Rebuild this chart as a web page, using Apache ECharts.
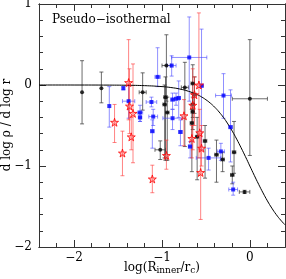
<!DOCTYPE html>
<html>
<head>
<meta charset="utf-8">
<script src="https://cdn.jsdelivr.net/npm/echarts@6/dist/echarts.min.js"></script>
<style>
html,body{margin:0;padding:0;background:#fff;}
#c{width:286px;height:279px;}
</style>
</head>
<body>
<div id="c"></div>
<script>
// ---- tick values ----
var xMajor = [-2, -1, 0];
var xMinor = [-2.4, -2.2, -2.0, -1.8, -1.6, -1.4, -1.2, -1.0, -0.8, -0.6, -0.4, -0.2, 0.0, 0.2, 0.4];
var yMajor = [-2, -1, 0, 1];
var yMinor = [-2.0, -1.8, -1.6, -1.4, -1.2, -1.0, -0.8, -0.6, -0.4, -0.2, 0.0, 0.2, 0.4, 0.6, 0.8, 1.0];

// ---- texts ----
var titleText = 'Pseudo\u2212isothermal';
var xName = '{a|log(R}{s|inner}{a|/r}{s|c}{a|)}';
var yName = 'd log \u03c1 / d log r';

// ---- model curve ----
var curveX = [-2.4, -2.0, -1.6, -1.4, -1.2, -1.0, -0.9, -0.8, -0.7, -0.6, -0.55, -0.5, -0.45, -0.4, -0.35, -0.3, -0.25, -0.2, -0.15, -0.1, -0.05, 0.0, 0.05, 0.1, 0.15, 0.2, 0.25, 0.3, 0.35, 0.4];
var curveY = [0.0, -0.0002, -0.0013, -0.0032, -0.0079, -0.0198, -0.031, -0.049, -0.077, -0.119, -0.147, -0.182, -0.224, -0.274, -0.333, -0.402, -0.481, -0.570, -0.668, -0.774, -0.885, -1.0, -1.115, -1.226, -1.332, -1.431, -1.520, -1.599, -1.667, -1.726];

// ---- black points ----
var blackX   = [-1.91, -1.69, -1.22, -0.95, -0.96, -0.97, -0.94, -0.74, -0.65, -0.63, -0.65, -0.65, -0.66, -0.60, -0.51, 0.00, -1.02, -0.38, -0.31, -0.18, -0.20, -0.06];
var blackY   = [-0.09, -0.04, -0.09, 0.24, -0.15, -0.24, -0.34, -0.03, 0.02, -0.12, -0.24, -0.33, -0.47, -0.64, -0.69, -0.17, -0.80, -0.86, -0.92, -0.83, -1.11, -1.32];
var blackYHi = [0.30, 0.16, 0.15, 0.62, 0.10, 0.00, -0.15, 0.28, 0.25, 0.10, -0.10, -0.15, -0.30, -0.40, -0.50, 0.56, -0.69, -0.68, -0.83, -0.45, -1.00, -1.30];
var blackYLo = [-0.48, -0.22, -0.31, -0.20, -0.93, -0.90, -0.93, -0.76, -0.30, -0.35, -0.40, -0.55, -1.07, -1.17, -1.15, -0.87, -0.92, -1.20, -1.07, -1.09, -1.22, -1.34];
var blackXErr= [0, 0, 0.04, 0.05, 0.02, 0.02, 0.02, 0.04, 0.02, 0.02, 0.02, 0.02, 0.02, 0.02, 0.02, 0.20, 0.06, 0.02, 0.02, 0.02, 0.02, 0.06];

// ---- blue points ----
var blueX   = [-1.60, -1.44, -1.38, -1.25, -1.25, -1.05, -1.12, -1.10, -1.11, -0.89, -0.69, -0.55, -0.30, -0.22, -0.88, -0.84, -0.81, -0.88, -0.79, -0.68, -0.47, -0.33, -0.19];
var blueY   = [-0.26, -0.04, -0.20, -0.34, -0.40, 0.10, -0.21, -0.39, -0.57, 0.24, 0.34, -0.01, -0.13, -0.52, -0.18, -0.17, -0.16, -0.41, -0.58, -0.76, -0.90, -0.82, -1.29];
var blueYHi = [-0.02, -0.02, -0.01, -0.25, -0.35, 0.46, -0.15, -0.30, -0.43, 0.36, 0.84, 0.69, 0.14, -0.06, -0.10, -0.10, 0.05, -0.30, -0.43, -0.70, -0.78, -0.72, -1.20];
var blueYLo = [-0.52, -0.06, -0.41, -0.45, -0.45, -0.02, -0.27, -0.50, -0.78, 0.11, -0.20, -0.80, -0.41, -0.95, -0.30, -0.25, -0.40, -0.55, -0.75, -0.90, -1.05, -0.93, -1.36];
var blueXErr= [0, 0, 0.07, 0.03, 0.02, 0.03, 0.06, 0.05, 0.02, 0.05, 0.20, 0.02, 0.09, 0.02, 0.02, 0.04, 0.02, 0.11, 0.02, 0.02, 0.14, 0.04, 0.05];

// ---- red stars ----
var redX   = [-1.38, -1.54, -1.37, -1.33, -1.35, -1.45, -1.11, -0.95, -0.58, -0.75, -0.65, -0.63, -0.66, -0.55, -0.56, -0.57];
var redY   = [0.03, -0.46, -0.26, -0.35, -0.64, -0.84, -1.16, -0.87, 0.00, -0.38, -0.25, -0.12, -0.66, -0.78, -1.08, -0.59];
var redYHi = [0.56, -0.24, 0.20, 0.26, -0.40, -0.57, -0.99, -0.68, 0.89, -0.18, 0.20, 0.10, -0.50, -0.50, -0.60, -0.30];
var redYLo = [-0.43, -0.71, -0.60, -0.96, -0.80, -1.12, -1.33, -1.04, -0.90, -0.75, -0.80, -0.50, -0.90, -1.00, -1.66, -0.80];
var redXErr= [0, 0, 0, 0, 0, 0, 0, 0, 0.05, 0, 0, 0, 0, 0, 0, 0];

var FONT = 'DejaVu Serif';
function minus(v){ var s = String(Math.round(v)); return s.replace('-', '\u2212'); }

function rows(X, Y, Lo, Hi, XE){
  var out = [];
  for (var i = 0; i < X.length; i++) out.push([X[i], Y[i], Lo[i], Hi[i], XE[i]]);
  return out;
}
function pts(X, Y){
  var out = [];
  for (var i = 0; i < X.length; i++) out.push([X[i], Y[i]]);
  return out;
}
function errRender(color){
  return function(params, api){
    var x = api.value(0), y = api.value(1), lo = api.value(2), hi = api.value(3), xe = api.value(4);
    var p = api.coord([x, y]);
    var pl = api.coord([x, lo]);
    var ph = api.coord([x, hi]);
    var cap = 2;
    var st = {stroke: color, lineWidth: 1, fill: null};
    var ch = [
      {type:'line', shape:{x1:p[0], y1:ph[1], x2:p[0], y2:pl[1]}, style:st},
      {type:'line', shape:{x1:p[0]-cap, y1:ph[1], x2:p[0]+cap, y2:ph[1]}, style:st},
      {type:'line', shape:{x1:p[0]-cap, y1:pl[1], x2:p[0]+cap, y2:pl[1]}, style:st}
    ];
    if (xe > 0) {
      var a = api.coord([x - xe, y]), b = api.coord([x + xe, y]);
      ch.push({type:'line', shape:{x1:a[0], y1:p[1], x2:b[0], y2:p[1]}, style:st});
      ch.push({type:'line', shape:{x1:a[0], y1:p[1]-cap, x2:a[0], y2:p[1]+cap}, style:st});
      ch.push({type:'line', shape:{x1:b[0], y1:p[1]-cap, x2:b[0], y2:p[1]+cap}, style:st});
    }
    return {type:'group', children: ch};
  };
}

var axisLineStyle = {color:'#333', width:1};
function xAx(pos, vals, len, showLabel){
  return {
    type:'value', position:pos, min:-2.4, max:0.4,
    axisLine:{show:true, onZero:false, lineStyle:axisLineStyle},
    axisTick:{show:true, inside:true, length:len, customValues:vals, lineStyle:{color:'#333'}},
    axisLabel:{show:showLabel, customValues:vals, formatter:minus, color:'#000', fontFamily:FONT, fontSize:12, margin:5},
    splitLine:{show:false}
  };
}
function yAx(pos, vals, len, showLabel){
  return {
    type:'value', position:pos, min:-2, max:1,
    axisLine:{show:true, onZero:false, lineStyle:axisLineStyle},
    axisTick:{show:true, inside:true, length:len, customValues:vals, lineStyle:{color:'#333'}},
    axisLabel:{show:showLabel, customValues:vals, formatter:minus, color:'#000', fontFamily:FONT, fontSize:12, margin:7},
    splitLine:{show:false}
  };
}

var chart = echarts.init(document.getElementById('c'), null, {renderer:'canvas'});
chart.setOption({
  animation:false,
  backgroundColor:'#fff',
  grid:{left:39, right:1, top:4, bottom:32, containLabel:false, outerBoundsMode:'none'},
  title:{text:titleText, left:52, top:14, padding:0,
    textStyle:{fontFamily:FONT, fontSize:12, fontWeight:'normal', color:'#000'}},
  graphic:[
    {type:'text', x:162, y:268, style:{text:xName, align:'center', verticalAlign:'middle',
      rich:{
        a:{fontFamily:FONT, fontSize:12, fill:'#000', color:'#000'},
        s:{fontFamily:FONT, fontSize:9, fill:'#000', color:'#000', padding:[6,0,0,0]}
      }}},
    {type:'text', x:6.5, y:125, rotation:Math.PI/2, style:{text:yName, align:'center', verticalAlign:'middle',
      fontFamily:FONT, fontSize:12, fill:'#000'}}
  ],
  xAxis:[
    xAx('bottom', xMajor, 7, true),
    xAx('bottom', xMinor, 4, false),
    xAx('top', xMajor, 7, false),
    xAx('top', xMinor, 4, false)
  ],
  yAxis:[
    yAx('left', yMajor, 7, true),
    yAx('left', yMinor, 4, false),
    yAx('right', yMajor, 7, false),
    yAx('right', yMinor, 4, false)
  ],
  series:[
    {type:'custom', renderItem:errRender('rgba(60,60,60,0.75)'), data:rows(blackX, blackY, blackYLo, blackYHi, blackXErr), encode:{x:0, y:1}, z:2},
    {type:'custom', renderItem:errRender('rgba(70,70,255,0.6)'), data:rows(blueX, blueY, blueYLo, blueYHi, blueXErr), encode:{x:0, y:1}, z:2},
    {type:'custom', renderItem:errRender('rgba(255,50,50,0.6)'), data:rows(redX, redY, redYLo, redYHi, redXErr), encode:{x:0, y:1}, z:2},
    {type:'line', data:pts(curveX, curveY), smooth:true, showSymbol:false, symbol:'none',
      lineStyle:{color:'#000', width:1}, z:3},
    {type:'scatter', data:pts(blackX, blackY), symbol:'circle', symbolSize:4,
      itemStyle:{color:'#000'}, z:4},
    {type:'scatter', data:pts(blueX, blueY), symbol:'rect', symbolSize:4,
      itemStyle:{color:'#0000ff'}, z:4},
    {type:'scatter', data:pts(redX, redY),
      symbol:'path://M50,0 L61,35 L98,35 L68,57 L79,91 L50,70 L21,91 L32,57 L2,35 L39,35 Z',
      symbolSize:8, itemStyle:{color:'rgba(255,120,120,0.6)', borderColor:'#ff0000', borderWidth:1}, z:5}
  ]
});
</script>
</body>
</html>
